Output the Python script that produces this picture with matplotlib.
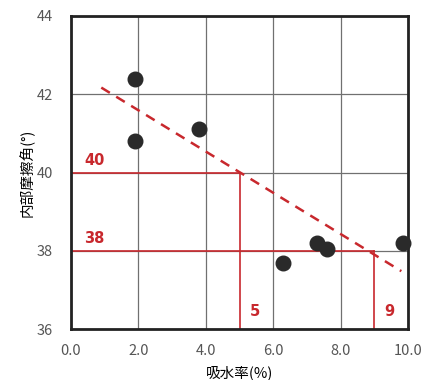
import matplotlib.pyplot as plt

plt.rcParams['font.family'] = ['Noto Sans CJK JP', 'DejaVu Sans']

# measured points (water absorption %, internal friction angle deg)
absorption = [1.9, 1.9, 3.8, 6.3, 7.3, 7.6, 9.85]
friction = [42.4, 40.8, 41.1, 37.7, 38.2, 38.05, 38.2]

# dashed trend line end points
trend_x = [0.9, 9.8]
trend_y = [42.17, 37.48]

# read-off guides: friction angle -> absorption
guide_y = [40, 38]
guide_x = [5, 9]

x_ticks = [0, 2, 4, 6, 8, 10]
y_ticks = [36, 38, 40, 42, 44]

red = "#c8282d"
gray = "#707070"

fig = plt.figure(figsize=(4.3, 3.8), dpi=100)
ax = fig.add_axes([0.165, 0.134, 0.784, 0.824])

ax.set_xlim(0, 10)
ax.set_ylim(36, 44)
ax.set_xticks(x_ticks)
ax.set_xticklabels([f"{t:.1f}" for t in x_ticks])
ax.set_yticks(y_ticks)
ax.tick_params(length=0, labelsize=10.5, labelcolor="#555555")
ax.tick_params(axis="x", pad=11)
ax.tick_params(axis="y", pad=13)
ax.grid(True, color=gray, linewidth=0.9)
ax.set_axisbelow(True)
for s in ax.spines.values():
    s.set_linewidth(2.0)
    s.set_color("#222222")

for gy, gx in zip(guide_y, guide_x):
    ax.plot([0, gx], [gy, gy], color=red, linewidth=1.2, zorder=2)
    ax.plot([gx, gx], [36, gy], color=red, linewidth=1.2, zorder=2)
    ax.text(0.4, gy + 0.12, str(gy), color=red, fontsize=10.5,
            fontweight="bold", family="DejaVu Sans", va="bottom")
    ax.text(gx + 0.3, 36.25, str(gx), color=red, fontsize=10.5,
            fontweight="bold", family="DejaVu Sans", va="bottom")

ax.plot(trend_x, trend_y, color=red, linestyle=(0, (4, 3)), linewidth=1.8, zorder=3)

ax.scatter(absorption, friction, s=110, color="#2a2a2a", zorder=4, clip_on=False)

ax.set_xlabel("吸水率(%)", fontsize=10.5, labelpad=5)
ax.set_ylabel("内部摩擦角(°)", fontsize=10.5, labelpad=1)

fig.savefig("out.png", dpi=100)
